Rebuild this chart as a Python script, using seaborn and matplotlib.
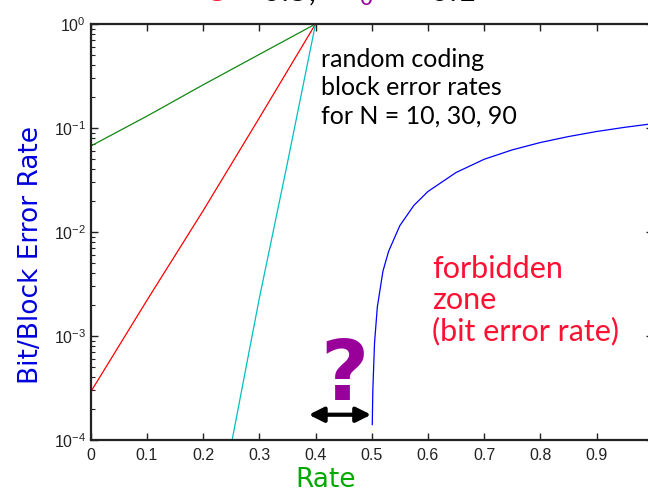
import numpy as np
import pandas as pd
import matplotlib
matplotlib.use("Agg")
import matplotlib.pyplot as plt
import seaborn as sns
from matplotlib.ticker import LogLocator, FixedLocator, NullFormatter

# ---- data ----
rate_n10 = [0.0, 0.10, 0.20, 0.30, 0.40]
err_n10 = [0.067, 0.13, 0.26, 0.51, 1.0]

rate_n30 = [0.0, 0.10, 0.20, 0.30, 0.40]
err_n30 = [2.9e-4, 2.2e-3, 1.6e-2, 0.125, 1.0]

rate_n90 = [0.25, 0.30, 0.35, 0.40]
err_n90 = [9e-5, 2.3e-3, 4.6e-2, 1.0]

rate_bit = [0.501, 0.502, 0.505, 0.51, 0.52, 0.53, 0.55, 0.575, 0.60, 0.65,
            0.70, 0.75, 0.80, 0.85, 0.90, 0.95, 1.0]
err_bit = [1.4e-4, 3.0e-4, 8.5e-4, 1.9e-3, 4.2e-3, 6.5e-3, 1.15e-2, 1.8e-2,
           2.45e-2, 3.73e-2, 5.0e-2, 6.16e-2, 7.25e-2, 8.27e-2, 9.25e-2,
           0.1015, 0.110]

x_ticks = [0, 0.1, 0.2, 0.3, 0.4, 0.5, 0.6, 0.7, 0.8, 0.9]
x_ticklabels = ["0", "0.1", "0.2", "0.3", "0.4", "0.5", "0.6", "0.7", "0.8", "0.9"]

sns.set_theme(style="ticks")
plt.rcParams["font.family"] = ["Liberation Sans", "DejaVu Sans"]
plt.rcParams["mathtext.fontset"] = "custom"
plt.rcParams["mathtext.rm"] = "Liberation Sans"
plt.rcParams["mathtext.it"] = "Liberation Sans:italic"

fig = plt.figure(figsize=(6.48, 4.96), dpi=100)
ax = fig.add_axes([90.7 / 648, 56 / 496, 562 / 648, 416 / 496])

series = [
    (rate_n10, err_n10, "#118811"),
    (rate_n30, err_n30, "#ff0000"),
    (rate_n90, err_n90, "#00c0c0"),
    (rate_bit, err_bit, "#0000ff"),
]
for xs, ys, col in series:
    df = pd.DataFrame({"rate": xs, "err": ys})
    sns.lineplot(data=df, x="rate", y="err", ax=ax, color=col, lw=0.9,
                 sort=False, estimator=None)

ax.set_yscale("log")
ax.set_xlim(0, 1)
ax.set_ylim(1e-4, 1)
ax.xaxis.set_major_locator(FixedLocator(x_ticks))
ax.set_xticklabels(x_ticklabels)
ax.yaxis.set_major_locator(LogLocator(base=10, numticks=10))
ax.yaxis.set_minor_locator(LogLocator(base=10, subs=np.arange(2, 10), numticks=10))
ax.yaxis.set_minor_formatter(NullFormatter())
ax.tick_params(which="both", direction="in", top=True, right=True,
               labelsize=11.5, colors="#222222")
ax.tick_params(which="major", length=5, width=1)
ax.tick_params(which="minor", length=3, width=0.8)
ax.tick_params(axis="x", pad=6)
for s in ax.spines.values():
    s.set_linewidth(1.6)
    s.set_color("#222222")

ax.set_xlabel("Rate", color="#00aa00", fontsize=19,
              family=["DejaVu Sans"])
ax.xaxis.set_label_coords((326 - 90.7) / 562, -27 / 416)
ax.set_ylabel("Bit/Block Error Rate", color="#0000dd", fontsize=19,
              family=["DejaVu Sans"])
ax.yaxis.set_label_coords((44 - 90.7) / 562, (440 - 255) / 416)

ax.text(0.41, 10 ** (-(48 - 24) / 104),
        "random coding\nblock error rates\nfor N = 10, 30, 90",
        fontsize=18, color="black", va="top", ha="left", linespacing=1.27,
        family=["Lato", "DejaVu Sans"])
ax.text(0.607, 10 ** (-(255 - 24) / 104), "forbidden\nzone\n(bit error rate)",
        fontsize=22, color="#ff1133", va="top", ha="left", linespacing=1.12,
        family=["Lato", "DejaVu Sans"])
ax.text(0.451, 10 ** (-(400 - 24) / 104), "?", fontsize=60, color="#990099",
        fontweight="bold", ha="center", va="baseline", family=["DejaVu Sans"])
ax.annotate("", xy=(0.388, 1.75e-4), xytext=(0.499, 1.75e-4),
            arrowprops=dict(arrowstyle="<|-|>", color="black", lw=3,
                            mutation_scale=22, shrinkA=0, shrinkB=0))

# cut-off heading at the top edge
yb = 1 - 1 / 496
fig.text(205 / 648, yb, "C", color="#ff1133", fontsize=22, va="baseline",
         family=["Lato", "DejaVu Sans"])
fig.text(262 / 648, yb, "0.5,", color="black", fontsize=24, va="baseline",
         family=["Lato", "DejaVu Sans"])
fig.text(350 / 648, yb, "$f_0$", color="#990099", fontsize=24, va="baseline")
fig.text(430 / 648, yb, "0.1", color="black", fontsize=24, va="baseline",
         family=["Lato", "DejaVu Sans"])

fig.savefig("out.png", dpi=100)
